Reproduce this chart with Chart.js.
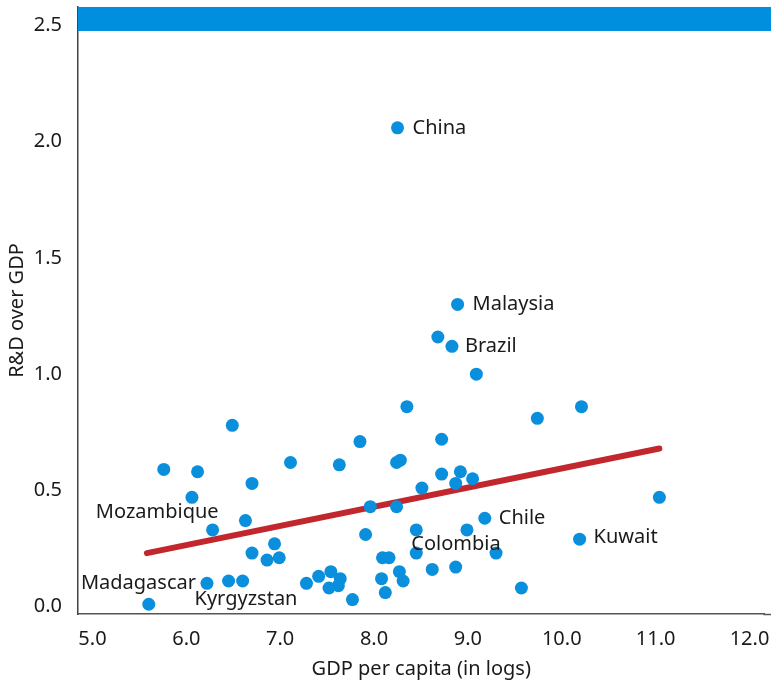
<!DOCTYPE html>
<html>
<head>
<meta charset="utf-8">
<script src="https://cdn.jsdelivr.net/npm/chart.js@4.4.1/dist/chart.umd.min.js"></script>
<style>
    body { margin: 0; background: #fff; overflow: hidden; }
    #myChart { display: block; }
</style>
</head>
<body>
<canvas id="myChart" width="771" height="689"></canvas>
<script>
"use strict";

// log GDP per capita / R&D share
let gdpLog = [5.60, 5.76, 6.12, 6.06, 6.28, 6.22, 6.45, 6.60, 6.49, 6.63,
    6.70, 6.70, 6.86, 6.94, 6.99, 7.11, 7.28, 7.41, 7.54, 7.64,
    7.52, 7.62, 7.77, 7.63, 7.85, 7.96, 7.91, 8.08, 8.09, 8.16,
    8.12, 8.25, 8.24, 8.28, 8.24, 8.27, 8.31, 8.35, 8.45, 8.45,
    8.51, 8.62, 8.68, 8.72, 8.72, 8.83, 8.87, 8.87, 8.89, 8.92,
    8.99, 9.05, 9.09, 9.18, 9.30, 9.57, 9.74, 10.19, 10.21, 11.04];
let rdShare = [0.01, 0.59, 0.58, 0.47, 0.33, 0.10, 0.11, 0.11, 0.78, 0.37,
    0.53, 0.23, 0.20, 0.27, 0.21, 0.62, 0.10, 0.13, 0.15, 0.12,
    0.08, 0.09, 0.03, 0.61, 0.71, 0.43, 0.31, 0.12, 0.21, 0.21,
    0.06, 2.06, 0.62, 0.63, 0.43, 0.15, 0.11, 0.86, 0.33, 0.23,
    0.51, 0.16, 1.16, 0.72, 0.57, 1.12, 0.53, 0.17, 1.30, 0.58,
    0.33, 0.55, 1.00, 0.38, 0.23, 0.08, 0.81, 0.29, 0.86, 0.47];

// fitted line ends
let fitX = [5.58, 11.04];
let fitY = [0.23, 0.68];

let xTicks = [5, 6, 7, 8, 9, 10, 11, 12];
let yTicks = [0, 0.5, 1, 1.5, 2, 2.5];

// country names by point index
let countryIdx = [31, 48, 45, 53, 57, 39, 4, 5, 16];
let countryName = ["China", "Malaysia", "Brazil", "Chile", "Kuwait", "Colombia", "Mozambique", "Madagascar", "Kyrgyzstan"];
// where each name sits next to its dot
let labelPos = [
    {dx: 15, dy: 0, align: "left"},
    {dx: 15, dy: 0, align: "left"},
    {dx: 13, dy: 0, align: "left"},
    {dx: 14, dy: 0, align: "left"},
    {dx: 14, dy: -2, align: "left"},
    {dx: -5, dy: -9, align: "left"},
    {dx: 6, dy: -18, align: "right"},
    {dx: -11, dy: 0, align: "right"},
    {dx: -9, dy: 16, align: "right"}
];

const FONT = "'Noto Sans', 'Open Sans', sans-serif";
const BLUE = "#0a8fdc";

let points = gdpLog.map((x, i) => ({x: x, y: rdShare[i]}));
let fitLine = fitX.map((x, i) => ({x: x, y: fitY[i]}));

function noPadding(scale) {
    scale.paddingLeft = 0;
    scale.paddingRight = 0;
    scale.paddingTop = 0;
    scale.paddingBottom = 0;
}

// blue band along the top, run out to the canvas edge like the bottom axis
let topBand = {
    id: "topBand",
    beforeDatasetsDraw(chart) {
        let ctx = chart.ctx, a = chart.chartArea;
        ctx.save();
        ctx.fillStyle = "#008fde";
        ctx.fillRect(a.left, a.top, chart.width - a.left, 24);
        ctx.strokeStyle = "#555";
        ctx.lineWidth = 1.5;
        ctx.beginPath();
        ctx.moveTo(a.right - 1, a.bottom + 0.5);
        ctx.lineTo(chart.width, a.bottom + 0.5);
        ctx.stroke();
        ctx.restore();
    }
};

let countryLabels = {
    id: "countryLabels",
    afterDatasetsDraw(chart) {
        let ctx = chart.ctx;
        let meta = chart.getDatasetMeta(1);
        ctx.save();
        ctx.font = "20px " + FONT;
        ctx.fillStyle = "#1a1a1a";
        ctx.textBaseline = "middle";
        for (let k = 0; k < countryIdx.length; k++) {
            let pt = meta.data[countryIdx[k]];
            let p = labelPos[k];
            ctx.textAlign = p.align;
            ctx.fillText(countryName[k], pt.x + p.dx, pt.y + p.dy);
        }
        ctx.restore();
    }
};

let myChart = new Chart(document.getElementById("myChart"), {
    type: "scatter",
    data: {
        datasets: [
            {
                type: "line",
                data: fitLine,
                borderColor: "#c1272d",
                borderWidth: 6,
                borderCapStyle: "round",
                pointRadius: 0,
                fill: false,
                order: 2
            },
            {
                data: points,
                backgroundColor: BLUE,
                borderWidth: 0,
                pointRadius: 6.5,
                pointHoverRadius: 6.5,
                order: 1
            }
        ]
    },
    options: {
        responsive: false,
        animation: false,
        layout: {padding: {top: 7, right: 0, left: 0, bottom: 0}},
        plugins: {legend: {display: false}, tooltip: {enabled: false}},
        scales: {
            x: {
                type: "linear",
                min: 4.846,
                max: 12.16,
                afterBuildTicks: (axis) => { axis.ticks = xTicks.map(v => ({value: v})); },
                afterFit: (scale) => {
                    scale.height = 75;
                    noPadding(scale);
                },
                grid: {display: false},
                border: {display: true, color: "#555", width: 1.5},
                ticks: {
                    color: "#1a1a1a",
                    font: {family: FONT, size: 20},
                    padding: 5,
                    maxRotation: 0,
                    callback: (v) => Number(v).toFixed(1)
                },
                title: {
                    display: true,
                    text: "GDP per capita (in logs)",
                    color: "#1a1a1a",
                    font: {family: FONT, size: 20},
                    padding: {top: 0, bottom: 8}
                }
            },
            y: {
                type: "linear",
                min: -0.032,
                max: 2.58,
                afterBuildTicks: (axis) => { axis.ticks = yTicks.map(v => ({value: v})); },
                afterFit: (scale) => {
                    scale.width = 78;
                    noPadding(scale);
                },
                grid: {display: false},
                border: {display: true, color: "#444", width: 1.5},
                ticks: {
                    color: "#1a1a1a",
                    font: {family: FONT, size: 20},
                    padding: 8,
                    callback: (v) => Number(v).toFixed(1)
                },
                title: {
                    display: true,
                    text: "R&D over GDP",
                    color: "#1a1a1a",
                    font: {family: FONT, size: 20},
                    padding: {top: 5, bottom: 0}
                }
            }
        }
    },
    plugins: [topBand, countryLabels]
});
</script>
</body>
</html>
